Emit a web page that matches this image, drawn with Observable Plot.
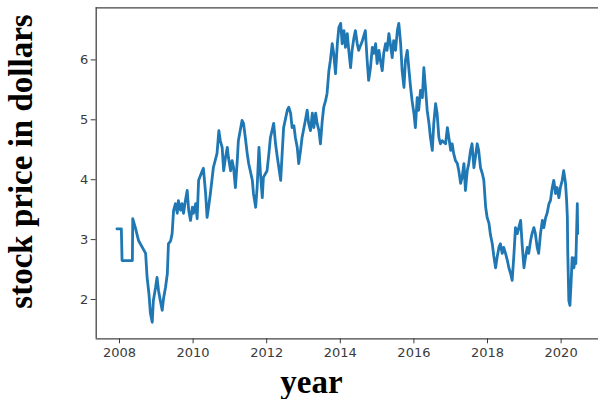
<!DOCTYPE html>
<html>
<head>
<meta charset="utf-8">
<script src="https://cdn.jsdelivr.net/npm/d3@7"></script>
<script src="https://cdn.jsdelivr.net/npm/@observablehq/plot@0.6"></script>
<style>
  html, body { margin: 0; padding: 0; background: #fff; overflow: hidden; }
  #chart { width: 598px; height: 399px; }
</style>
</head>
<body>
<div id="chart"></div>
<script>
// Decimal year of each reading
const years = [
  2007.93, 2008.05, 2008.07, 2008.35, 2008.36, 2008.43, 2008.52, 2008.62, 2008.71, 2008.75,
  2008.80, 2008.84, 2008.89, 2008.92, 2008.98, 2009.02, 2009.06, 2009.11, 2009.16, 2009.20,
  2009.25, 2009.30, 2009.33, 2009.39, 2009.43, 2009.47, 2009.52, 2009.57, 2009.60, 2009.66,
  2009.70, 2009.74, 2009.79, 2009.84, 2009.88, 2009.93, 2009.98, 2010.01, 2010.07, 2010.11,
  2010.15, 2010.25, 2010.28, 2010.34, 2010.38, 2010.42, 2010.47, 2010.55, 2010.65, 2010.70,
  2010.74, 2010.79, 2010.83, 2010.88, 2010.93, 2010.96, 2011.02, 2011.06, 2011.10, 2011.15,
  2011.20, 2011.23, 2011.33, 2011.37, 2011.42, 2011.47, 2011.51, 2011.61, 2011.64, 2011.70,
  2011.74, 2011.79, 2011.83, 2011.88, 2011.91, 2012.01, 2012.06, 2012.10, 2012.19, 2012.24,
  2012.29, 2012.38, 2012.42, 2012.46, 2012.56, 2012.60, 2012.65, 2012.69, 2012.74, 2012.78,
  2012.83, 2012.87, 2012.92, 2012.96, 2013.05, 2013.10, 2013.14, 2013.19, 2013.24, 2013.28,
  2013.33, 2013.37, 2013.42, 2013.46, 2013.51, 2013.55, 2013.60, 2013.64, 2013.69, 2013.73,
  2013.78, 2013.82, 2013.87, 2013.92, 2013.96, 2014.01, 2014.05, 2014.10, 2014.14, 2014.19,
  2014.23, 2014.28, 2014.32, 2014.37, 2014.41, 2014.46, 2014.50, 2014.60, 2014.68, 2014.73,
  2014.77, 2014.82, 2014.87, 2014.91, 2014.96, 2015.00, 2015.05, 2015.09, 2015.14, 2015.18,
  2015.23, 2015.27, 2015.32, 2015.36, 2015.41, 2015.45, 2015.50, 2015.55, 2015.59, 2015.64,
  2015.68, 2015.73, 2015.77, 2015.82, 2015.86, 2015.91, 2015.95, 2016.00, 2016.04, 2016.09,
  2016.13, 2016.18, 2016.23, 2016.27, 2016.32, 2016.36, 2016.41, 2016.45, 2016.50, 2016.54,
  2016.59, 2016.63, 2016.68, 2016.72, 2016.77, 2016.86, 2016.91, 2016.95, 2017.00, 2017.04,
  2017.08, 2017.13, 2017.18, 2017.22, 2017.27, 2017.31, 2017.36, 2017.40, 2017.45, 2017.49,
  2017.54, 2017.58, 2017.63, 2017.67, 2017.72, 2017.76, 2017.81, 2017.86, 2017.90, 2017.95,
  2017.99, 2018.04, 2018.08, 2018.13, 2018.17, 2018.22, 2018.26, 2018.31, 2018.35, 2018.40,
  2018.44, 2018.49, 2018.54, 2018.58, 2018.63, 2018.67, 2018.72, 2018.76, 2018.81, 2018.85,
  2018.90, 2018.94, 2018.99, 2019.03, 2019.08, 2019.12, 2019.17, 2019.21, 2019.26, 2019.30,
  2019.35, 2019.39, 2019.44, 2019.49, 2019.53, 2019.58, 2019.62, 2019.67, 2019.71, 2019.76,
  2019.80, 2019.85, 2019.89, 2019.94, 2019.98, 2020.03, 2020.07, 2020.12, 2020.15, 2020.17,
  2020.18, 2020.21, 2020.24, 2020.27, 2020.30, 2020.35, 2020.37, 2020.40, 2020.42, 2020.44,
  2020.45
];
// Stock price in dollars for each reading
const prices = [
  3.18, 3.18, 2.65, 2.65, 3.35, 3.20, 2.98, 2.87, 2.77, 2.37,
  2.10, 1.77, 1.62, 1.98, 2.20, 2.37, 2.15, 1.98, 1.82, 2.03,
  2.20, 2.43, 2.93, 2.98, 3.10, 3.49, 3.60, 3.44, 3.65, 3.49,
  3.60, 3.44, 3.65, 3.82, 3.49, 3.32, 3.54, 3.44, 3.60, 3.35,
  3.99, 4.15, 4.19, 3.77, 3.37, 3.54, 3.77, 4.20, 4.44, 4.82,
  4.65, 4.54, 4.15, 4.37, 4.54, 4.37, 4.15, 4.32, 4.20, 3.87,
  4.32, 4.65, 4.99, 4.94, 4.70, 4.44, 4.27, 3.99, 3.77, 3.54,
  3.87, 4.54, 4.10, 3.70, 4.04, 4.15, 4.44, 4.70, 4.94, 4.60,
  4.37, 3.99, 4.44, 4.87, 5.16, 5.21, 5.11, 4.87, 4.90, 4.70,
  4.54, 4.27, 4.49, 4.70, 4.99, 5.16, 4.94, 4.82, 5.11, 4.87,
  5.11, 4.94, 4.82, 4.60, 4.99, 5.21, 5.32, 5.44, 5.82, 5.99,
  6.27, 6.11, 5.77, 6.27, 6.54, 6.61, 6.27, 6.49, 6.21, 6.44,
  6.16, 5.87, 6.16, 6.37, 6.49, 6.27, 6.16, 6.32, 6.49, 5.99,
  5.66, 5.87, 6.21, 6.11, 6.27, 5.94, 6.16, 5.99, 5.82, 6.11,
  6.27, 6.16, 6.44, 6.27, 6.04, 6.32, 6.16, 6.49, 6.61, 6.27,
  5.82, 5.54, 5.99, 6.16, 5.87, 5.54, 5.32, 5.11, 4.87, 5.37,
  5.16, 5.49, 5.37, 5.87, 5.49, 5.16, 4.94, 4.70, 4.49, 4.94,
  5.27, 5.11, 4.70, 4.60, 4.65, 4.60, 4.87, 4.70, 4.49, 4.60,
  4.44, 4.32, 4.27, 4.15, 3.94, 4.04, 4.27, 3.82, 4.15, 4.27,
  4.49, 4.60, 4.20, 4.37, 4.60, 4.49, 4.20, 4.10, 3.99, 3.54,
  3.37, 3.27, 3.08, 2.93, 2.73, 2.53, 2.70, 2.87, 2.93, 2.77,
  2.87, 2.77, 2.65, 2.53, 2.43, 2.32, 2.77, 3.20, 3.10, 3.20,
  3.32, 2.93, 2.53, 2.70, 2.87, 2.77, 2.98, 3.10, 3.20, 3.10,
  2.87, 2.77, 3.10, 3.32, 3.20, 3.37, 3.44, 3.60, 3.65, 3.87,
  3.99, 3.77, 3.87, 3.70, 3.87, 3.99, 4.15, 3.94, 3.65, 3.37,
  2.82, 1.98, 1.90, 2.27, 2.70, 2.53, 2.70, 2.60, 3.10, 3.60,
  3.10
];
const xTicks = [2008, 2010, 2012, 2014, 2016, 2018, 2020];
const yTicks = [2, 3, 4, 5, 6];
const xLabel = "year";
const yLabel = "stock price in dollars";

const data = years.map((t, i) => ({year: t, price: prices[i]}));
const xDomain = [2007.367, 2021.016];
const yDomain = [1.344, 6.87];

const chart = Plot.plot({
  width: 598,
  height: 399,
  marginLeft: 95.7,
  marginRight: 0,
  marginTop: 7.3,
  marginBottom: 60.7,
  style: {fontFamily: "DejaVu Sans", fontSize: "13px", background: "#fff"},
  x: {domain: xDomain},
  y: {domain: yDomain},
  marks: [
    Plot.line(data, {x: "year", y: "price", stroke: "#1f77b4", strokeWidth: 2.8, strokeLinejoin: "round"}),
    Plot.ruleX([xDomain[0]], {stroke: "#444", strokeWidth: 1.3}),
    Plot.ruleY([yDomain[0], yDomain[1]], {stroke: "#444", strokeWidth: 1.3}),
    Plot.axisX(xTicks, {tickSize: 5, tickPadding: 4, tickFormat: d => String(d), color: "#3a3a3a", label: null}),
    Plot.axisY(yTicks, {tickSize: 5, tickPadding: 3, tickFormat: d => String(d), color: "#3a3a3a", label: null})
  ]
});
document.getElementById("chart").appendChild(chart);

const svg = d3.select(chart);
svg.append("text")
  .attr("x", 311.5).attr("y", 393)
  .attr("text-anchor", "middle")
  .attr("font-family", "'Liberation Serif', 'Times New Roman', serif")
  .attr("font-weight", "bold").attr("font-size", 33).attr("fill", "#000")
  .text(xLabel);
svg.append("text")
  .attr("transform", "translate(31.5,161.5) rotate(-90)")
  .attr("text-anchor", "middle")
  .attr("font-family", "'Liberation Serif', 'Times New Roman', serif")
  .attr("font-weight", "bold").attr("font-size", 33).attr("fill", "#000")
  .text(yLabel);
</script>
</body>
</html>
